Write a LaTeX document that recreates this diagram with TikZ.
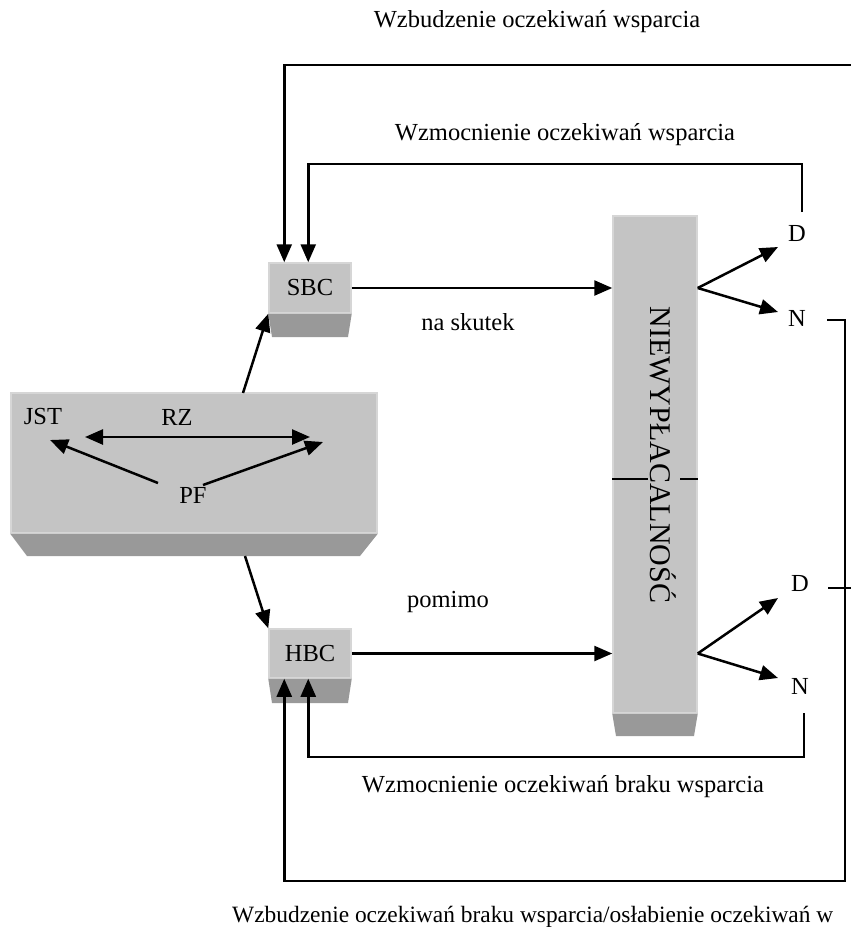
\documentclass[tikz,border=0pt]{standalone}
\usepackage{fontspec}
\setmainfont{Liberation Serif}
\usetikzlibrary{arrows.meta}
\definecolor{facegray}{RGB}{196,196,196}
\definecolor{edgegray}{RGB}{214,214,214}
\definecolor{botgray}{RGB}{153,153,153}
\begin{document}
\begin{tikzpicture}[x=1pt,y=-1pt,
  face/.style={fill=facegray, draw=edgegray, line width=1.5pt, inner sep=0pt},
  bottomface/.style={fill=botgray},
  lbl/.style={font=\fontsize{24.5}{28}\selectfont, inner sep=1pt},
  conn/.style={line width=2.5pt},
  arr/.style={conn, -{Triangle[length=18pt,width=15pt]}},
  darr/.style={conn, {Triangle[length=18pt,width=15pt]}-{Triangle[length=18pt,width=15pt]}},
  thinline/.style={line width=1.2pt},
  markline/.style={line width=1.8pt}]
\path[use as bounding box] (0,0) rectangle (851,930);
\clip (0,0) rectangle (851,930);

% main box
\node[face, minimum width=366pt, minimum height=140pt] (main) at (194,463) {};
\fill[bottomface] (main.south west) -- (main.south east) -- (360,556) -- (27,556) -- cycle;
\node[lbl] (jst) at (43,417) {JST};
\node[lbl] (rz) at (177,417) {RZ};
\node[lbl] (pf) at (193,495) {PF};
\coordinate (rzl) at (85,437);
\coordinate (rzr) at (310,437);
\coordinate (jstt) at (50,440);
\coordinate (pfl) at (158,483);
\coordinate (pfrs) at (203,485);
\coordinate (pfrt) at (323,442);
\draw[darr] (rzl) -- (rzr);
\draw[arr] (pfl) -- (jstt);
\draw[arr] (pfrs) -- (pfrt);

% SBC and HBC
\node[face, lbl, minimum width=82pt, minimum height=50pt] (sbc) at (310,288) {SBC};
\fill[bottomface] (sbc.south west) -- (sbc.south east) -- (348,337) -- (272,337) -- cycle;
\node[face, lbl, minimum width=82pt, minimum height=49pt] (hbc) at (310,653.5) {HBC};
\fill[bottomface] (hbc.south west) -- (hbc.south east) -- (348,703) -- (272,703) -- cycle;

% main box to SBC / HBC
\coordinate (mt) at (243,393);
\coordinate (mb) at (245,556);
\draw[arr] (mt) -- (sbc.south west);
\draw[arr] (mb) -- (hbc.north west);

% NIEWYPLACALNOSC
\node[face, minimum width=84pt, minimum height=497pt] (niew) at (655,464.5) {};
\fill[bottomface] (niew.south west) -- (niew.south east) -- (694,736) -- (616,736) -- cycle;
\node[lbl, rotate=-90, font=\fontsize{30}{34}\selectfont] (niewt) at (663,455) {NIEWYPŁACALNOŚĆ};
\coordinate (mk1) at (648,479);
\coordinate (mk2) at (680,479);
\draw[markline] (mk1 -| niew.west) -- (mk1);
\draw[markline] (mk2) -- (mk2 -| niew.east);

\draw[arr] (sbc.east) -- (sbc.east -| niew.west);
\draw[arr] (hbc.east) -- (hbc.east -| niew.west);
\node[lbl] (skutek) at (468,322) {na skutek};
\node[lbl] (pomimo) at (448,602) {pomimo};

% forks
\coordinate (f1) at (sbc.east -| niew.east);
\coordinate (f2) at (hbc.east -| niew.east);
\node[lbl] (d1) at (797,233) {D};
\node[lbl] (n1) at (797,318) {N};
\node[lbl] (d2) at (800,583) {D};
\node[lbl] (n2) at (800,686) {N};
\coordinate (d1t) at (778,247);
\coordinate (n1t) at (778,312);
\coordinate (d2t) at (778,598);
\coordinate (n2t) at (778,678);
\draw[arr] (f1) -- (d1t);
\draw[arr] (f1) -- (n1t);
\draw[arr] (f2) -- (d2t);
\draw[arr] (f2) -- (n2t);

% top loop
\coordinate (topR) at (851,65);
\draw[arr] (topR) -| ([xshift=16pt]sbc.north west);
\node[lbl] (t1) at (537,22) {Wzbudzenie oczekiwań wsparcia};

% second loop
\coordinate (d1top) at (802,212);
\coordinate (wcorner) at (802,164);
\coordinate (wr) at (757,164);
\coordinate (wl) at (383,164);
\draw[conn] (d1top) -- (wcorner) -- (wr);
\draw[thinline] (wr) -- (wl);
\draw[arr] (wl) -| ([xshift=40pt]sbc.north west);
\node[lbl] (t2) at (565,135) {Wzmocnienie oczekiwań wsparcia};

% outer bottom loop
\coordinate (n1r) at (827,320);
\coordinate (oc1) at (845,320);
\coordinate (oc2) at (845,881);
\draw[arr] (n1r) -- (oc1) -- (oc2) -| ([xshift=16pt]hbc.south west);
\coordinate (d2r) at (828,588);
\coordinate (d2e) at (851,588);
\draw[conn] (d2r) -- (d2e);

% inner bottom loop
\coordinate (n2b) at (804,713);
\coordinate (ic) at (804,757);
\draw[arr] (n2b) -- (ic) -| ([xshift=40pt]hbc.south west);
\node[lbl] (t5) at (563,787) {Wzmocnienie oczekiwań braku wsparcia};
\node[lbl, anchor=west, font=\fontsize{23.4}{27}\selectfont] (t6) at (231,917) {Wzbudzenie oczekiwań braku wsparcia/osłabienie oczekiwań w};
\end{tikzpicture}
\end{document}
